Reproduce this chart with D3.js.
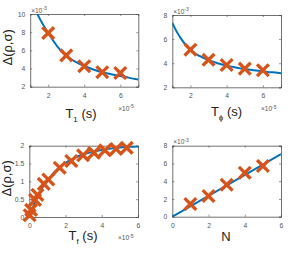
<!DOCTYPE html>
<html><head><meta charset="utf-8">
<script src="https://cdn.jsdelivr.net/npm/d3@7"></script>
<style>
body{margin:0;background:#fff;}
svg{display:block;font-family:"Liberation Sans",Arial,sans-serif;}
</style></head>
<body><svg id="c" width="299" height="253"></svg>
<script>
// ---- data ----
// Panel A: Delta vs T1 (x in 1e-5 s, y in 1e-3)
const aMarkX = [2, 3, 4, 5, 6];
const aMarkY = [7.9, 5.45, 4.25, 3.6, 3.5];
const aFitX = [1.4, 1.5, 1.75, 2, 2.5, 3, 3.5, 4, 4.5, 5, 5.5, 6, 6.5, 7];
const aFitY = [10, 9.6, 8.7, 7.9, 6.45, 5.4, 4.75, 4.28, 3.9, 3.6, 3.38, 3.18, 2.97, 2.78];
// Panel B: Delta vs T_phi
const bMarkX = [2, 3, 4, 5, 6];
const bMarkY = [5.12, 4.28, 3.85, 3.55, 3.42];
const bFitX = [1, 1.25, 1.5, 1.75, 2, 2.5, 3, 3.5, 4, 4.5, 5, 5.5, 6, 6.5, 7];
const bFitY = [7.35, 6.6, 6.0, 5.5, 5.1, 4.6, 4.25, 4.0, 3.8, 3.65, 3.52, 3.42, 3.33, 3.24, 3.17];
// Panel C: Delta vs T_f (y unscaled)
const cMarkX = [0.02, 0.1, 0.32, 0.45, 0.8, 1.05, 1.68, 2.32, 2.97, 3.57, 4.18, 4.79, 5.38];
const cMarkY = [0.05, 0.2, 0.48, 0.62, 0.93, 1.05, 1.38, 1.57, 1.73, 1.8, 1.87, 1.91, 1.94];
const cFitX = [0, 0.25, 0.5, 0.75, 1, 1.5, 2, 2.5, 3, 3.5, 4, 4.5, 5, 5.5, 6];
const cFitY = [0, 0.34, 0.62, 0.84, 1.02, 1.32, 1.52, 1.66, 1.76, 1.83, 1.88, 1.92, 1.95, 1.97, 1.98];
// Panel D: Delta vs N
const dMarkX = [1, 2, 3, 4, 5];
const dMarkY = [1.43, 2.33, 3.6, 4.95, 5.72];
const dFitX = [0, 6];
const dFitY = [0, 7.05];

const ticksA = {x:[2,4,6], y:[2,4,6,8,10]};
const ticksB = {x:[2,4,6], y:[2,4,6,8]};
const ticksC = {x:[0,2,4,6], y:[0,0.5,1,1.5,2]};
const ticksD = {x:[0,2,4,6], y:[0,2,4,6,8]};

// ---- layout ----
const svg = d3.select("#c");
const BLUE = "#0072BD", ORANGE = "#D95319", AX = "#4d4d4d", TXT = "#555";

const panels = [
  {l:30.2, r:138.3, t:14, b:86.7, xd:[1,7], yd:[2,10], ticks:ticksA, mx:aMarkX, my:aMarkY, fx:aFitX, fy:aFitY,
   yexp:true, xexp:true, xlab:["T","1"," (s)"], xlabX:81, xlabY:118, ylab:true},
  {l:172.3, r:281, t:15, b:87.3, xd:[1,7], yd:[2,8], ticks:ticksB, mx:bMarkX, my:bMarkY, fx:bFitX, fy:bFitY,
   yexp:true, xexp:true, xlab:["T","ϕ"," (s)"], xlabX:226.5, xlabY:116, ylab:false},
  {l:29.3, r:138, t:145.7, b:217, xd:[0,6], yd:[0,2], ticks:ticksC, mx:cMarkX, my:cMarkY, fx:cFitX, fy:cFitY,
   yexp:false, xexp:true, xlab:["T","f"," (s)"], xlabX:83, xlabY:240, ylab:true},
  {l:172.3, r:281, t:145.7, b:216.7, xd:[0,6], yd:[0,8], ticks:ticksD, mx:dMarkX, my:dMarkY, fx:dFitX, fy:dFitY,
   yexp:true, xexp:false, xlab:["N","",""], xlabX:226, xlabY:241, ylab:false}
];

const defs = svg.append("defs");
panels.forEach((p, i) => {
  const x = d3.scaleLinear().domain(p.xd).range([p.l, p.r]);
  const y = d3.scaleLinear().domain(p.yd).range([p.b, p.t]);
  const g = svg.append("g");
  defs.append("clipPath").attr("id","cp"+i).append("rect")
    .attr("x",p.l).attr("y",p.t).attr("width",p.r-p.l).attr("height",p.b-p.t);

  // axes
  const fmt = d3.format("~g");
  const axB = g.append("g").attr("transform",`translate(0,${p.b})`)
    .call(d3.axisBottom(x).tickValues(p.ticks.x).tickSize(-2).tickPadding(6).tickFormat(fmt));
  const axT = g.append("g").attr("transform",`translate(0,${p.t})`)
    .call(d3.axisTop(x).tickValues(p.ticks.x).tickSize(-2).tickFormat(""));
  const axL = g.append("g").attr("transform",`translate(${p.l},0)`)
    .call(d3.axisLeft(y).tickValues(p.ticks.y).tickSize(-2).tickPadding(5).tickFormat(fmt));
  const axR = g.append("g").attr("transform",`translate(${p.r},0)`)
    .call(d3.axisRight(y).tickValues(p.ticks.y).tickSize(-2).tickFormat(""));
  [axB,axT,axL,axR].forEach(a => {
    a.select(".domain").attr("stroke",AX).attr("stroke-width",0.8);
    a.selectAll(".tick line").attr("stroke",AX).attr("stroke-width",0.6);
    a.selectAll("text").attr("fill",TXT).attr("font-size","6.8px")
      .attr("font-family","Liberation Sans, Arial, sans-serif");
  });

  // fit curve
  const fit = p.fx.map((v,k)=>[v,p.fy[k]]);
  g.append("path").attr("clip-path",`url(#cp${i})`)
    .attr("d", d3.line().x(d=>x(d[0])).y(d=>y(d[1])).curve(d3.curveMonotoneX)(fit))
    .attr("fill","none").attr("stroke",BLUE).attr("stroke-width",2);

  // markers
  const s = 4.7;
  p.mx.forEach((v,k) => {
    const cx = x(v), cy = y(p.my[k]);
    g.append("path")
      .attr("d",`M${cx-s},${cy-s}L${cx+s},${cy+s}M${cx-s},${cy+s}L${cx+s},${cy-s}`)
      .attr("stroke",ORANGE).attr("stroke-width",3.3).attr("stroke-linecap","square");
  });

  // exponent labels
  if (p.yexp) {
    const t = g.append("text").attr("x",p.l+1).attr("y",p.t-1.5)
      .attr("font-size","6.5px").attr("fill",TXT);
    t.append("tspan").text("×10");
    t.append("tspan").attr("dy",-2.5).attr("font-size","5px").text("-3");
  }
  if (p.xexp) {
    const t = g.append("text").attr("x",p.r-20).attr("y",p.b+ (i<2?24:23))
      .attr("font-size","6.5px").attr("fill",TXT);
    t.append("tspan").text("×10");
    t.append("tspan").attr("dy",-2.5).attr("font-size","5px").text("-5");
  }

  // x label
  const xl = g.append("text").attr("x",p.xlabX).attr("y",p.xlabY)
    .attr("text-anchor","middle").attr("font-size","13px").attr("fill","#222");
  xl.append("tspan").text(p.xlab[0]);
  if (p.xlab[1]) xl.append("tspan").attr("dy",3.5).attr("font-size","8px").text(p.xlab[1]);
  if (p.xlab[2]) xl.append("tspan").attr("dy",-3.5).text(p.xlab[2]);

  // y label
  if (p.ylab) {
    const cy = (p.t+p.b)/2 - 3;
    g.append("text").attr("transform",`translate(${p.l-18},${cy}) rotate(-90)`)
      .attr("text-anchor","middle").attr("font-size","13px").attr("fill","#222")
      .text("Δ(ρ,σ)");
  }
});
</script></body></html>
